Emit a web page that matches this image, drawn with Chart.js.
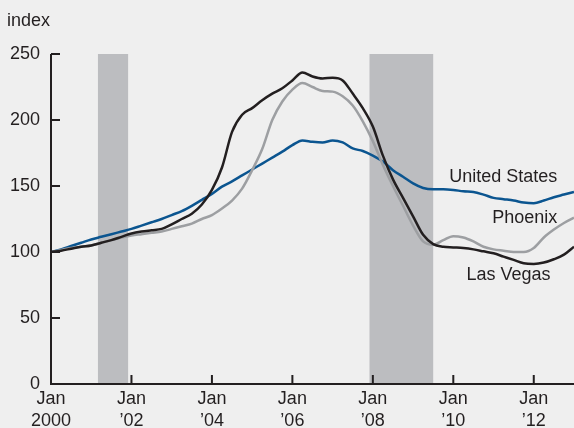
<!DOCTYPE html>
<html>
<head>
<meta charset="utf-8">
<script src="https://cdn.jsdelivr.net/npm/chart.js@4"></script>
<style>
  body { margin: 0; background: #efefef; }
  canvas { display: block; }
</style>
</head>
<body>
<canvas id="myChart" width="574" height="428"></canvas>
<script>
// months since Jan 2000, quarterly
let months = [0, 3, 6, 9, 12, 15, 18, 21, 24, 27, 30, 33, 36, 39, 42, 45, 48, 51, 54, 57,
  60, 63, 66, 69, 72, 75, 78, 81, 84, 87, 90, 93, 96, 99, 102, 105, 108, 111, 114, 117,
  120, 123, 126, 129, 132, 135, 138, 141, 144, 147, 150, 153, 156];

let unitedStates = [100, 102, 104.5, 107, 109.5, 111.5, 113.5, 115.5, 117.5, 120, 122.5, 125, 128, 131, 135, 139.5, 144, 149.5, 153.5, 158,
  162.5, 167, 171.5, 176, 181, 184.5, 183.5, 183, 184.5, 183, 178.5, 176.5, 173, 168.5, 162, 157, 152, 148.5, 147.5, 147.5,
  147, 146, 145.5, 143.5, 141, 140, 139, 137.5, 137, 139, 141.5, 143.5, 145.5];

let phoenix = [100, 101.5, 103, 104, 105, 107, 109, 111, 112.5, 113.5, 114.5, 115.5, 117.5, 119.5, 121.5, 125, 128, 133, 139, 148,
  162, 178, 200, 214, 223, 228, 225, 222, 221.5, 218, 211, 199, 184, 166, 150, 135, 120, 108, 105.5, 109,
  112, 111, 108, 104, 102, 101, 100, 100, 103, 111, 117, 122, 126];

let lasVegas = [100, 101, 102.5, 104, 105, 107, 109, 111.5, 114, 115.5, 116.5, 117.5, 121, 125, 129, 136, 147, 164, 191, 204,
  209, 215, 220, 224, 230, 236, 233, 231.5, 232, 230, 220, 209, 195, 173, 155, 141, 127, 113, 106, 104,
  103.5, 103, 102, 100.5, 99, 96.5, 94, 91.5, 91, 92, 94.5, 98, 104];

// recessions, in months since Jan 2000
let recessions = [[14, 23], [95, 114]];

let tickMonths = [0, 24, 48, 72, 96, 120, 144];
let tickLabels = [["Jan", "2000"], ["Jan", "\u201902"], ["Jan", "\u201904"], ["Jan", "\u201906"],
  ["Jan", "\u201908"], ["Jan", "\u201910"], ["Jan", "\u201912"]];

let seriesNames = ["United States", "Phoenix", "Las Vegas"];
let seriesColors = ["#0b5590", "#9d9fa2", "#231f20"];
// where the name sits: [month, index value], right aligned
let nameSpots = [[151, 157], [151, 126], [149, 82.5]];

const ink = "#231f20";
const fontFamily = "'Liberation Sans', Arial, Helvetica, sans-serif";

function toPoints(values) {
  return values.map((v, i) => ({ x: months[i], y: v }));
}

const framePlugin = {
  id: "frame",
  beforeDatasetsDraw(chart) {
    const c = chart.ctx, xs = chart.scales.x, ys = chart.scales.y;
    c.save();
    c.fillStyle = "#bcbdc0";
    const top = ys.getPixelForValue(250), bot = ys.getPixelForValue(0);
    recessions.forEach(r => {
      const a = xs.getPixelForValue(r[0]), b = xs.getPixelForValue(r[1]);
      c.fillRect(a, top, b - a, bot - top);
    });
    c.restore();
  },
  afterDatasetsDraw(chart) {
    const c = chart.ctx, xs = chart.scales.x, ys = chart.scales.y;
    const area = chart.chartArea;
    c.save();
    c.strokeStyle = ink;
    c.lineWidth = 2;
    c.beginPath();
    c.moveTo(area.left, ys.getPixelForValue(250));
    c.lineTo(area.left, area.bottom);
    c.lineTo(area.right, area.bottom);
    c.stroke();
    // inward tick marks
    c.beginPath();
    ys.ticks.forEach(t => {
      const y = ys.getPixelForValue(t.value);
      c.moveTo(area.left, y);
      c.lineTo(area.left + 9, y);
    });
    tickMonths.forEach(m => {
      if (m === 0) return;
      const x = xs.getPixelForValue(m);
      c.moveTo(x, area.bottom);
      c.lineTo(x, area.bottom - 9);
    });
    c.stroke();

    // series names
    c.fillStyle = ink;
    c.font = "18px " + fontFamily;
    c.textAlign = "right";
    c.textBaseline = "middle";
    seriesNames.forEach((name, i) => {
      c.fillText(name, xs.getPixelForValue(nameSpots[i][0]), ys.getPixelForValue(nameSpots[i][1]));
    });

    // unit label
    c.textAlign = "left";
    c.fillText("index", 7, 21);
    c.restore();
  }
};

const config = {
  type: "line",
  data: {
    datasets: seriesNames.map((name, i) => ({
      label: name,
      data: toPoints([unitedStates, phoenix, lasVegas][i]),
      borderColor: seriesColors[i],
      borderWidth: 2.5,
      pointRadius: 0,
      cubicInterpolationMode: "monotone",
      fill: false
    })).reverse()
  },
  options: {
    responsive: false,
    animation: false,
    layout: { padding: { top: 54, right: 0, left: 0, bottom: 0 } },
    plugins: {
      legend: { display: false },
      tooltip: { enabled: false }
    },
    scales: {
      x: {
        type: "linear",
        min: 0,
        max: 156,
        grid: { display: false, drawTicks: false },
        border: { display: false },
        afterBuildTicks: axis => { axis.ticks = tickMonths.map(m => ({ value: m })); },
        afterFit: axis => { axis.height = 44; },
        ticks: {
          autoSkip: false,
          maxRotation: 0,
          padding: 5,
          color: ink,
          font: { family: fontFamily, size: 18, lineHeight: 1.17 },
          callback: v => tickLabels[tickMonths.indexOf(v)]
        }
      },
      y: {
        min: 0,
        max: 250,
        grid: { display: false, drawTicks: false },
        border: { display: false },
        afterFit: axis => { axis.width = 51; },
        ticks: {
          stepSize: 50,
          padding: 11,
          color: ink,
          font: { family: fontFamily, size: 18 }
        }
      }
    }
  },
  plugins: [framePlugin]
};

new Chart(document.getElementById("myChart"), config);
</script>
</body>
</html>
